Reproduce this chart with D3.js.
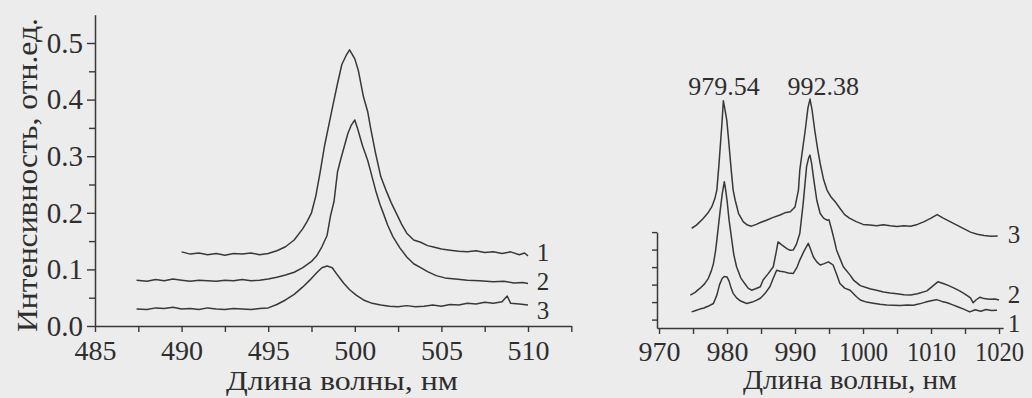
<!DOCTYPE html>
<html><head><meta charset="utf-8">
<script src="https://cdn.jsdelivr.net/npm/d3@7"></script>
<style>
html,body{margin:0;padding:0;background:#ececec;}
svg{display:block;}
text{font-family:"Times New Roman","Liberation Serif",Tinos,Times,serif;fill:#2e2e2e;}
</style></head><body>
<svg id="c" width="1032" height="398"></svg>
<script>
// ---------------- DATA ----------------
const curveNames = ["1", "2", "3"];
const yTitle = "Интенсивность, отн.ед.";
const xTitle = "Длина волны, нм";
const leftXTicks = [485, 487.5, 490, 492.5, 495, 497.5, 500, 502.5, 505, 507.5, 510, 512.5];
const leftXLabels = [485, 490, 495, 500, 505, 510];
const leftYTicks = [0, 0.05, 0.1, 0.15, 0.2, 0.25, 0.3, 0.35, 0.4, 0.45, 0.5];
const leftYLabels = [0, 0.1, 0.2, 0.3, 0.4, 0.5];
const rightXTicks = [970, 975, 980, 985, 990, 995, 1000, 1005, 1010, 1015, 1020];
const rightXLabels = [970, 980, 990, 1000, 1010, 1020];
const rightYTicks = [0, 0.05, 0.1, 0.15, 0.2, 0.25];
const peakValues = [979.54, 992.38];
const peakLabels = ["979.54", "992.38"];

// Left panel, curve 1
const leftX1 = [490.0,490.5,491.0,491.5,492.0,492.5,493.0,493.5,494.0,494.5,495.0,495.5,496.0,496.5,497.0,497.25,497.5,497.75,498.0,498.25,498.5,498.75,499.0,499.25,499.5,499.7,499.85,500.0,500.2,500.5,500.75,500.9,501.2,501.5,501.8,502.1,502.4,502.7,503.0,503.4,503.8,504.2,504.6,505.0,505.5,506.0,506.5,507.0,507.5,508.0,508.5,509.0,509.5,509.8,510.0];
const leftY1 = [0.131,0.127,0.129,0.126,0.128,0.125,0.128,0.127,0.129,0.126,0.128,0.133,0.140,0.152,0.172,0.185,0.200,0.230,0.272,0.318,0.355,0.392,0.428,0.462,0.478,0.488,0.480,0.472,0.452,0.405,0.378,0.352,0.305,0.264,0.240,0.218,0.199,0.180,0.164,0.152,0.148,0.142,0.139,0.136,0.134,0.132,0.131,0.133,0.130,0.131,0.128,0.131,0.126,0.129,0.124];
// Left panel, curve 2
const leftX2 = [487.4,488.0,488.5,489.0,489.5,490.0,490.5,491.0,491.5,492.0,492.5,493.0,493.5,494.0,494.5,495.0,495.5,496.0,496.5,497.0,497.5,497.8,498.1,498.4,498.6,498.8,499.0,499.2,499.4,499.6,499.8,500.0,500.15,500.3,500.45,500.6,500.75,500.9,501.2,501.45,501.65,501.9,502.2,502.6,503.0,503.4,503.8,504.2,504.7,505.2,505.8,506.5,507.2,508.0,508.6,509.2,509.7,510.0];
const leftY2 = [0.081,0.079,0.082,0.080,0.083,0.081,0.079,0.081,0.080,0.079,0.081,0.080,0.082,0.080,0.081,0.083,0.086,0.090,0.095,0.103,0.114,0.124,0.140,0.160,0.195,0.220,0.272,0.296,0.318,0.340,0.355,0.364,0.350,0.334,0.318,0.305,0.292,0.275,0.240,0.215,0.199,0.178,0.158,0.138,0.122,0.110,0.103,0.096,0.089,0.085,0.083,0.081,0.080,0.078,0.079,0.076,0.077,0.075];
// Left panel, curve 3
const leftX3 = [487.4,488.0,488.5,489.0,489.5,490.0,490.5,491.0,491.5,492.0,492.5,493.0,493.5,494.0,494.5,495.0,495.5,496.0,496.5,497.0,497.4,497.8,498.1,498.4,498.7,499.0,499.35,499.7,500.1,500.5,501.0,501.5,502.0,502.5,503.0,503.5,504.0,504.5,505.0,505.5,506.0,506.5,507.0,507.5,508.0,508.5,508.8,509.0,509.5,510.0];
const leftY3 = [0.030,0.029,0.032,0.031,0.033,0.030,0.031,0.029,0.032,0.030,0.029,0.031,0.030,0.029,0.031,0.032,0.038,0.046,0.056,0.069,0.081,0.094,0.103,0.106,0.103,0.090,0.076,0.064,0.054,0.046,0.040,0.037,0.035,0.034,0.036,0.034,0.035,0.037,0.035,0.038,0.037,0.040,0.039,0.042,0.040,0.043,0.053,0.040,0.039,0.037];

// Right panel, curve 1
const rightX1 = [974.8,975.4,976.0,976.6,977.2,978.0,978.5,978.9,979.3,979.6,980.0,980.3,980.6,980.9,981.4,982.0,982.9,983.7,984.3,984.9,985.6,986.3,986.8,987.3,987.8,988.3,989.0,989.75,990.3,990.7,991.3,991.95,992.3,992.7,993.2,993.7,994.3,994.9,995.3,995.6,996.1,996.6,997.3,998.1,999.0,999.6,1000.5,1001.5,1002.5,1003.5,1004.5,1005.5,1006.5,1007.4,1008.3,1009.2,1010.0,1010.8,1011.6,1012.4,1013.2,1014.0,1014.8,1015.7,1016.5,1017.3,1018.1,1018.9,1019.7];
const rightY1 = [0.022,0.026,0.030,0.033,0.038,0.046,0.070,0.100,0.118,0.123,0.122,0.110,0.090,0.075,0.062,0.053,0.046,0.050,0.055,0.061,0.075,0.094,0.118,0.141,0.138,0.137,0.133,0.132,0.150,0.170,0.195,0.218,0.200,0.179,0.165,0.156,0.160,0.165,0.160,0.156,0.130,0.103,0.090,0.084,0.066,0.056,0.050,0.047,0.044,0.042,0.041,0.040,0.042,0.041,0.045,0.050,0.054,0.057,0.052,0.048,0.042,0.036,0.030,0.022,0.028,0.024,0.029,0.026,0.027];
// Right panel, curve 2
const rightX2 = [974.6,975.3,976.0,976.7,977.25,977.7,978.0,978.3,978.5,978.75,979.0,979.3,979.6,979.8,980.0,980.3,980.7,981.0,981.4,982.0,982.6,983.1,983.6,984.2,984.9,985.3,986.0,986.8,987.2,987.5,988.0,988.8,989.3,989.75,990.2,990.7,991.2,991.5,991.7,992.0,992.2,992.45,992.7,993.2,993.7,994.2,994.7,995.0,995.4,995.8,996.1,996.6,997.1,998.1,998.6,999.6,1001.0,1002.0,1003.0,1004.0,1005.0,1006.0,1007.0,1008.0,1009.4,1010.2,1011.0,1011.8,1012.6,1013.4,1014.2,1015.0,1015.8,1016.2,1016.6,1017.2,1017.8,1018.6,1019.4,1020.0];
const rightY2 = [0.070,0.078,0.089,0.102,0.118,0.140,0.160,0.195,0.227,0.270,0.313,0.360,0.394,0.370,0.341,0.284,0.227,0.185,0.151,0.120,0.103,0.090,0.084,0.088,0.094,0.113,0.130,0.151,0.190,0.222,0.214,0.203,0.198,0.199,0.215,0.246,0.332,0.395,0.437,0.462,0.470,0.445,0.408,0.341,0.303,0.290,0.284,0.285,0.256,0.225,0.199,0.175,0.151,0.127,0.113,0.097,0.088,0.084,0.079,0.076,0.074,0.071,0.070,0.074,0.082,0.095,0.108,0.103,0.097,0.090,0.082,0.073,0.062,0.048,0.056,0.064,0.060,0.058,0.059,0.056];
// Right panel, curve 3
const rightX3 = [974.8,975.5,976.5,977.2,977.75,978.2,978.5,978.8,979.0,979.25,979.46,979.7,979.96,980.2,980.4,980.65,980.9,981.2,981.7,982.4,983.0,983.6,984.3,985.0,985.8,986.8,987.8,988.5,989.3,990.0,990.5,990.7,991.1,991.5,991.9,992.2,992.5,992.9,993.3,993.7,994.2,994.7,995.3,995.9,996.6,997.3,998.0,999.0,1000.0,1001.0,1002.0,1003.0,1004.0,1005.0,1006.0,1007.0,1008.0,1009.0,1010.0,1010.9,1011.8,1012.8,1013.8,1014.8,1015.8,1016.8,1017.8,1018.8,1019.8];
const rightY3 = [0.261,0.270,0.289,0.305,0.322,0.345,0.370,0.440,0.494,0.560,0.625,0.600,0.570,0.520,0.475,0.420,0.370,0.341,0.303,0.279,0.270,0.267,0.272,0.278,0.284,0.292,0.299,0.305,0.308,0.322,0.370,0.427,0.485,0.541,0.605,0.630,0.600,0.541,0.490,0.446,0.400,0.370,0.350,0.337,0.318,0.300,0.290,0.280,0.272,0.270,0.268,0.271,0.268,0.266,0.268,0.267,0.272,0.280,0.290,0.300,0.290,0.280,0.270,0.260,0.250,0.244,0.240,0.238,0.239];

// ---------------- DRAWING ----------------
const ink = "#383838";
const svg = d3.select("#c");
svg.append("rect").attr("width", 1032).attr("height", 398).attr("fill", "#ececec");

// scales
const xL = d3.scaleLinear().domain([485, 512.5]).range([95, 571.3]);
const yL = d3.scaleLinear().domain([0, 0.55]).range([326, 14.7]);
const xR = d3.scaleLinear().domain([969.7, 1020.6]).range([657, 1003.1]);
const yR = d3.scaleLinear().domain([-0.024, 0.25]).range([328, 232.1]);

function styleAxis(g) {
  g.attr("font-family", null).attr("font-size", null);
  g.selectAll("path.domain").attr("stroke", ink).attr("stroke-width", 1.5);
  g.selectAll(".tick line").attr("stroke", ink).attr("stroke-width", 1.4);
  g.selectAll(".tick text").attr("fill", "#2e2e2e");
}

// left x axis
const gxL = svg.append("g").attr("transform", "translate(0,326)")
  .call(d3.axisBottom(xL).tickValues(leftXTicks).tickSize(6).tickSizeOuter(0).tickPadding(8)
    .tickFormat(d => leftXLabels.includes(d) ? String(d) : ""));
styleAxis(gxL);
gxL.selectAll(".tick text").style("font-size", "28px");

// left y axis
const gyL = svg.append("g").attr("transform", "translate(95,0)")
  .call(d3.axisLeft(yL).tickValues(leftYTicks).tickSize(8).tickSizeOuter(0).tickPadding(4)
    .tickFormat(d => leftYLabels.some(v => Math.abs(v - d) < 1e-9) ? d3.format(".1f")(d) : ""));
styleAxis(gyL);
gyL.selectAll(".tick text").style("font-size", "29px");
gyL.selectAll(".tick line").attr("x2", d => leftYLabels.some(v => Math.abs(v - d) < 1e-9) ? -8 : -6);

// right x axis
const gxR = svg.append("g").attr("transform", "translate(0,328)")
  .call(d3.axisBottom(xR).tickValues(rightXTicks).tickSize(6).tickSizeOuter(0).tickPadding(7)
    .tickFormat(d => rightXLabels.includes(d) ? String(d) : ""));
styleAxis(gxR);
gxR.selectAll(".tick text").style("font-size", "28px")
  .each(function(d){ if (String(d).length === 4) d3.select(this).attr("textLength", 49).attr("lengthAdjust", "spacingAndGlyphs"); });

// right y axis (no labels)
const gyR = svg.append("g").attr("transform", "translate(657,0)")
  .call(d3.axisLeft(yR).tickValues(rightYTicks).tickSize(5).tickSizeOuter(0).tickFormat(""));
styleAxis(gyR);

// lines
const lineL = d3.line().x(d => xL(d[0])).y(d => yL(d[1]));
const lineR = d3.line().x(d => xR(d[0])).y(d => yR(d[1]));
const leftSeries = [d3.zip(leftX1, leftY1), d3.zip(leftX2, leftY2), d3.zip(leftX3, leftY3)];
const rightSeries = [d3.zip(rightX1, rightY1), d3.zip(rightX2, rightY2), d3.zip(rightX3, rightY3)];
svg.append("g").selectAll("path").data(leftSeries).join("path")
  .attr("d", lineL).attr("fill", "none").attr("stroke", ink).attr("stroke-width", 1.5).attr("stroke-linejoin", "round");
svg.append("g").selectAll("path").data(rightSeries).join("path")
  .attr("d", lineR).attr("fill", "none").attr("stroke", ink).attr("stroke-width", 1.5).attr("stroke-linejoin", "round");

// curve number labels
const leftLabelY = [253, 282, 311];
svg.append("g").selectAll("text").data(curveNames).join("text")
  .attr("x", 543).attr("y", (d, i) => leftLabelY[i] + 8)
  .attr("text-anchor", "middle").style("font-size", "25px").text(d => d);
const rightLabelY = [324, 295, 235];
svg.append("g").selectAll("text").data(curveNames).join("text")
  .attr("x", 1014).attr("y", (d, i) => rightLabelY[i] + 8)
  .attr("text-anchor", "middle").style("font-size", "25px").text(d => d);

// peak labels
const peakOffsets = [0, 12];
svg.append("g").selectAll("text").data(peakValues).join("text")
  .attr("x", (d, i) => xR(d) + peakOffsets[i]).attr("y", 95)
  .attr("text-anchor", "middle").style("font-size", "26px")
  .text((d, i) => peakLabels[i]);

// axis titles
svg.append("text").attr("x", 342).attr("y", 390).attr("text-anchor", "middle")
  .style("font-size", "28px").attr("textLength", 232).attr("lengthAdjust", "spacingAndGlyphs").text(xTitle);
svg.append("text").attr("x", 850).attr("y", 389).attr("text-anchor", "middle")
  .style("font-size", "27px").attr("textLength", 214).attr("lengthAdjust", "spacingAndGlyphs").text(xTitle);
svg.append("text").attr("transform", "translate(37,175) rotate(-90)").attr("text-anchor", "middle")
  .style("font-size", "29px").attr("textLength", 314).attr("lengthAdjust", "spacingAndGlyphs").text(yTitle);
</script>
</body></html>
